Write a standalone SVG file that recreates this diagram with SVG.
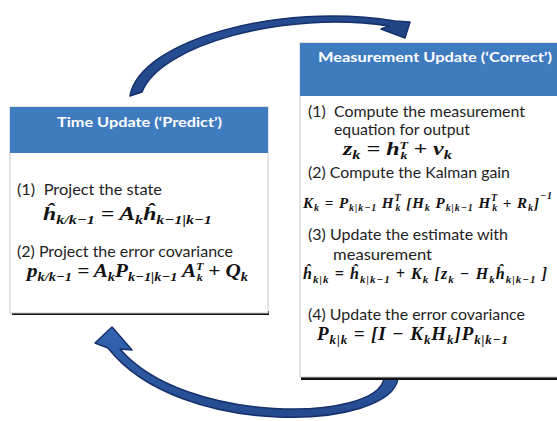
<svg xmlns="http://www.w3.org/2000/svg" width="557" height="421" viewBox="0 0 557 421">
<defs>
<style>
.box{fill:#fff;stroke:#c8c8c8;stroke-width:1}
.head{fill:#3f7bbf}
.shadow{fill:#111}
.hdr{font-family:Lato,"Liberation Sans",sans-serif;font-weight:700;font-size:14px;fill:#fff}
.txt{font-family:Lato,"Liberation Sans",sans-serif;font-size:15px;fill:#1e1e1e}
.eq{font-family:"Liberation Serif",serif;font-weight:700;font-style:italic;font-size:19px;fill:#111}
.sub{font-size:13px}
.sm{font-size:11px}
.arrow{stroke:#15306a;stroke-width:1.5;stroke-linejoin:round}
</style>
<linearGradient id="gTop" x1="0" y1="0" x2="1" y2="1">
<stop offset="0" stop-color="#2a55a0"/>
<stop offset="1" stop-color="#1b3770"/>
</linearGradient>
<linearGradient id="gBot" x1="0" y1="0" x2="0" y2="1">
<stop offset="0" stop-color="#3566b2"/>
<stop offset="1" stop-color="#24498e"/>
</linearGradient>
</defs>

<g id="connectors">
<path class="arrow" fill="url(#gTop)" d="M130,96 C140,40 280,2 395,21 L410,22 L405,38 L381,29 L389,26 C285,10 160,45 142,92 Z"/>
<path class="arrow" fill="url(#gBot)" d="M398,378 C392,430 180,440 108,348 L95,343 L112,327 L132,350 L120,349 C185,425 378,422 384,378 Z"/>
</g>

<g id="time-update">
<rect class="shadow" x="12" y="311" width="257" height="4"/>
<rect class="box" x="10" y="107" width="258" height="206"/>
<rect class="head" x="10" y="107" width="258" height="46"/>
<text class="hdr" x="57" y="127" textLength="165" lengthAdjust="spacingAndGlyphs">Time Update (‘Predict’)</text>
<text class="txt" x="17" y="195" textLength="145" lengthAdjust="spacingAndGlyphs" xml:space="preserve">(1)  Project the state</text>
<text class="eq" x="43" y="220" textLength="169" lengthAdjust="spacingAndGlyphs">ĥ<tspan class="sub" dy="4">k/k−1</tspan><tspan dy="-4"> =  A</tspan><tspan class="sub" dy="4">k</tspan><tspan dy="-4">ĥ</tspan><tspan class="sub" dy="4">k−1|k−1</tspan></text>
<text class="txt" x="17" y="257" textLength="216" lengthAdjust="spacingAndGlyphs">(2) Project the error covariance</text>
<text class="eq" x="27" y="277" textLength="221" lengthAdjust="spacingAndGlyphs">p<tspan class="sub" dy="4">k/k−1</tspan><tspan dy="-4"> =  A</tspan><tspan class="sub" dy="4">k</tspan><tspan dy="-4">P</tspan><tspan class="sub" dy="4">k−1|k−1</tspan><tspan dy="-4"> A</tspan><tspan class="sm" dy="-7">T</tspan><tspan class="sm" dx="-6" dy="11">k</tspan><tspan dy="-4"> + Q</tspan><tspan class="sub" dy="4">k</tspan></text>
</g>

<g id="measurement-update">
<rect class="shadow" x="301" y="376" width="256" height="4"/>
<rect class="box" x="300" y="43" width="262" height="334"/>
<rect class="head" x="300" y="43" width="262" height="53"/>
<text class="hdr" x="318" y="62" textLength="234" lengthAdjust="spacingAndGlyphs">Measurement Update (‘Correct’)</text>
<text class="txt" x="308" y="117" textLength="217" lengthAdjust="spacingAndGlyphs" xml:space="preserve">(1)  Compute the measurement</text>
<text class="txt" x="334" y="135" textLength="136" lengthAdjust="spacingAndGlyphs">equation for output</text>
<text class="eq" x="343" y="155" textLength="109" lengthAdjust="spacingAndGlyphs">z<tspan class="sub" dy="4">k</tspan><tspan dy="-4"> = h</tspan><tspan class="sm" dy="-6">T</tspan><tspan class="sm" dx="-6" dy="10">k</tspan><tspan dy="-4"> +  v</tspan><tspan class="sub" dy="4">k</tspan></text>
<text class="txt" x="308" y="178" textLength="202" lengthAdjust="spacingAndGlyphs">(2) Compute the Kalman gain</text>
<text class="eq" x="303" y="208" style="font-size:15px" textLength="249" lengthAdjust="spacing">K<tspan style="font-size:10px" dy="3">k</tspan><tspan dy="-3"> = P</tspan><tspan style="font-size:10px" dy="3">k|k−1</tspan><tspan dy="-3"> H</tspan><tspan style="font-size:10px" dy="-7">T</tspan><tspan style="font-size:10px" dx="-6" dy="10">k</tspan><tspan dy="-3"> [H</tspan><tspan style="font-size:10px" dy="3">k</tspan><tspan dy="-3"> P</tspan><tspan style="font-size:10px" dy="3">k|k−1</tspan><tspan dy="-3"> H</tspan><tspan style="font-size:10px" dy="-7">T</tspan><tspan style="font-size:10px" dx="-6" dy="10">k</tspan><tspan dy="-3"> + R</tspan><tspan style="font-size:10px" dy="3">k</tspan><tspan dy="-3">]</tspan><tspan style="font-size:10px" dy="-9">−1</tspan></text>
<text class="txt" x="308" y="240" textLength="200" lengthAdjust="spacingAndGlyphs">(3) Update the estimate with</text>
<text class="txt" x="333" y="260" textLength="99" lengthAdjust="spacingAndGlyphs">measurement</text>
<text class="eq" x="303" y="279" style="font-size:16px" textLength="244" lengthAdjust="spacing">ĥ<tspan style="font-size:11px" dy="4">k|k</tspan><tspan dy="-4"> = ĥ</tspan><tspan style="font-size:11px" dy="4">k|k−1</tspan><tspan dy="-4"> + K</tspan><tspan style="font-size:11px" dy="4">k</tspan><tspan dy="-4"> [z</tspan><tspan style="font-size:11px" dy="4">k</tspan><tspan dy="-4"> − H</tspan><tspan style="font-size:11px" dy="4">k</tspan><tspan dy="-4">ĥ</tspan><tspan style="font-size:11px" dy="4">k|k−1</tspan><tspan dy="-4"> ]</tspan></text>
<text class="txt" x="308" y="320" textLength="217" lengthAdjust="spacingAndGlyphs">(4) Update the error covariance</text>
<text class="eq" x="317" y="340" textLength="191" lengthAdjust="spacing">P<tspan class="sub" dy="4">k|k</tspan><tspan dy="-4"> = [I − K</tspan><tspan class="sub" dy="4">k</tspan><tspan dy="-4">H</tspan><tspan class="sub" dy="4">k</tspan><tspan dy="-4">]P</tspan><tspan class="sub" dy="4">k|k−1</tspan></text>
</g>
</svg>
